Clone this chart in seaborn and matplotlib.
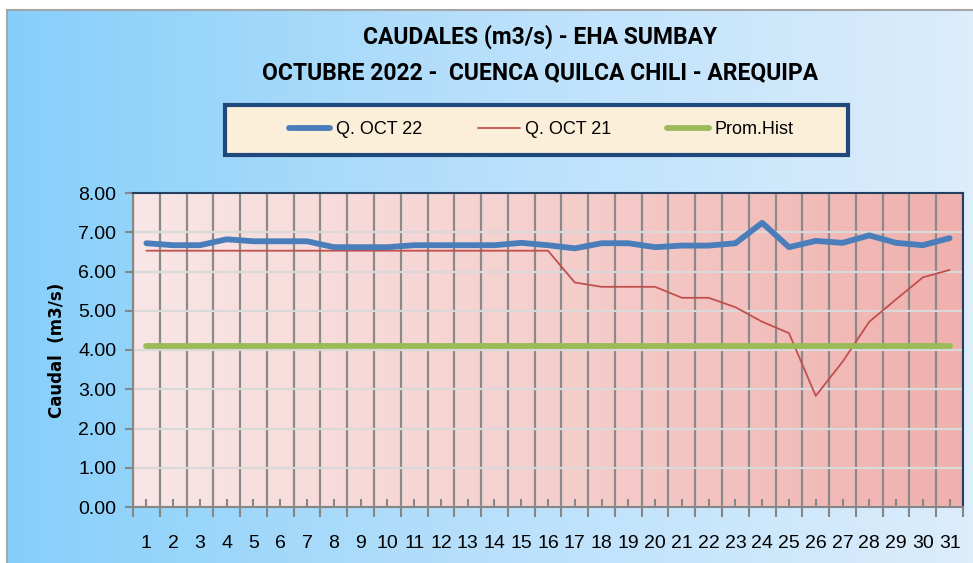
import numpy as np
import pandas as pd
import matplotlib
matplotlib.use("Agg")
import matplotlib.pyplot as plt
from matplotlib.patches import Rectangle
from matplotlib.colors import LinearSegmentedColormap
import seaborn as sns

sns.set_theme(style="white")
plt.rcParams['font.family'] = ['Liberation Sans', 'DejaVu Sans']
plt.rcParams['text.color'] = 'black'
plt.rcParams['axes.labelcolor'] = 'black'
plt.rcParams['xtick.color'] = 'black'
plt.rcParams['ytick.color'] = 'black'

# datos
days = list(range(1, 32))
day_labels = [str(d) for d in days]
q_oct22 = [6.72, 6.67, 6.67, 6.82, 6.77, 6.77, 6.77, 6.62, 6.62, 6.62,
           6.67, 6.67, 6.67, 6.67, 6.73, 6.67, 6.59, 6.72, 6.72, 6.62,
           6.66, 6.66, 6.72, 7.24, 6.62, 6.78, 6.73, 6.92, 6.73, 6.67, 6.85]
q_oct21 = [6.53, 6.53, 6.53, 6.53, 6.53, 6.53, 6.53, 6.53, 6.53, 6.53,
           6.53, 6.53, 6.53, 6.53, 6.53, 6.53, 5.72, 5.61, 5.61, 5.61,
           5.33, 5.33, 5.09, 4.72, 4.43, 2.83, 3.70, 4.72, 5.29, 5.85, 6.04]
prom_hist = [4.10] * 31
y_ticks = [0, 1, 2, 3, 4, 5, 6, 7, 8]

df = pd.DataFrame({"dia": days, "Q. OCT 22": q_oct22,
                   "Q. OCT 21": q_oct21, "Prom.Hist": prom_hist})

W, H = 973, 563
fig = plt.figure(figsize=(W / 100, H / 100), dpi=100)
grad = np.linspace(0, 1, 256).reshape(1, -1)

# fondo del grafico (degradado azul)
bg = fig.add_axes([7 / W, 0, 1 - 7 / W, 1 - 10 / H], zorder=-5)
cmap_bg = LinearSegmentedColormap.from_list("bg", ["#86cffa", "#b9e0fb", "#dcedfc"])
bg.imshow(grad, aspect="auto", cmap=cmap_bg, extent=[0, 1, 0, 1])
bg.set_xticks([])
bg.set_yticks([])
for s in ["right", "bottom"]:
    bg.spines[s].set_visible(False)
for s in ["left", "top"]:
    bg.spines[s].set_color("#a6a6a6")
    bg.spines[s].set_linewidth(1.5)

# area de trazado
ax = fig.add_axes([133 / W, 56 / H, 830 / W, 314 / H])
cmap_pa = LinearSegmentedColormap.from_list("pa", ["#f9e6e6", "#f5cfcd", "#f0b0ad"])
ax.imshow(grad, aspect="auto", cmap=cmap_pa, extent=[0.5, 31.5, 0, 8], zorder=0)

sns.lineplot(data=df, x="dia", y="Q. OCT 22", ax=ax, color="#4a7ebb", lw=4.2,
             label="Q. OCT 22", solid_capstyle="round", zorder=4)
sns.lineplot(data=df, x="dia", y="Q. OCT 21", ax=ax, color="#c0504d", lw=1.3,
             label="Q. OCT 21", zorder=3)
sns.lineplot(data=df, x="dia", y="Prom.Hist", ax=ax, color="#9bbb59", lw=4.2,
             label="Prom.Hist", solid_capstyle="round", zorder=3)

handles, labels = ax.get_legend_handles_labels()
ax.get_legend().remove()

ax.set_xlim(0.5, 31.5)
ax.set_ylim(0, 8)
ax.set_yticks(y_ticks)
ax.set_yticklabels([f"{v:.2f}" for v in y_ticks])
ax.set_xticks(np.arange(0.5, 32, 1))
ax.set_xticklabels([])
ax.set_xticks(days, minor=True)
ax.set_xticklabels(day_labels, minor=True)

gray = "#868686"
ax.tick_params(axis="y", which="major", direction="out", length=6, width=1.5,
               color=gray, left=True, labelsize=14, pad=6)
ax.tick_params(axis="x", which="major", direction="out", length=7, width=1.5,
               color=gray, bottom=True)
ax.tick_params(axis="x", which="minor", direction="in", length=6, width=1.5,
               color=gray, bottom=True, labelsize=14, pad=20)

ax.grid(False)
ax.grid(axis="x", which="major", color="#8a8a8a", lw=1.6)
ax.grid(axis="y", which="major", color="#d9d9d9", lw=1.6)

for s in ["left", "bottom"]:
    ax.spines[s].set_color(gray)
    ax.spines[s].set_linewidth(1.5)
for s in ["top", "right"]:
    ax.spines[s].set_color("#243f60")
    ax.spines[s].set_linewidth(1.5)

ax.set_xlabel("")
ax.set_ylabel("Caudal  (m3/s)", fontsize=12, fontweight="bold", family="DejaVu Sans")
ax.yaxis.set_label_coords((66 - 133) / 830, 0.5)

# titulos
title_font = ['Roboto', 'Liberation Sans', 'DejaVu Sans']
fig.text(540 / W, 1 - 37 / H, "CAUDALES (m3/s) - EHA SUMBAY", ha="center", va="center",
         fontsize=16.5, fontweight="bold", family=title_font)
fig.text(540 / W, 1 - 73 / H, "OCTUBRE 2022 -  CUENCA QUILCA CHILI - AREQUIPA",
         ha="center", va="center", fontsize=16.5, fontweight="bold", family=title_font)

# leyenda
fig.patches.append(Rectangle((225 / W, 1 - 155 / H), 623 / W, 50 / H,
                             transform=fig.transFigure, facecolor="#fcefd9",
                             edgecolor="#1f497d", lw=3, zorder=1))
fig.legend(handles, labels, loc="center", bbox_to_anchor=(541 / W, 1 - 130 / H),
           ncol=3, frameon=False, fontsize=13, handlelength=2.3,
           handletextpad=0.3, columnspacing=3.1)

fig.savefig("out.png", dpi=100)
